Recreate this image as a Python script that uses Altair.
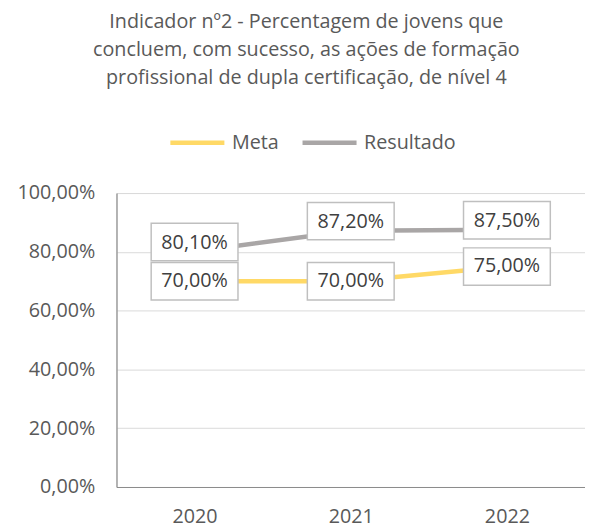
import altair as alt
import pandas as pd

years = ["2020", "2021", "2022"]
meta = [70.0, 70.0, 75.0]
resultado = [80.1, 87.2, 87.5]
series_names = ["Meta", "Resultado"]
colors = ["#FFD966", "#A9A6A6"]
title_lines = [
    "Indicador nº2 - Percentagem de jovens que",
    "concluem, com sucesso, as ações de formação",
    "profissional de dupla certificação, de nível 4",
]

rows = []
for y, m, r in zip(years, meta, resultado):
    rows.append({"ano": y, "serie": "Meta", "valor": m / 100})
    rows.append({"ano": y, "serie": "Resultado", "valor": r / 100})
df = pd.DataFrame(rows)

FONT = "Open Sans"
GREY = "#595959"

x = alt.X("ano:N", title=None, sort=years,
          scale=alt.Scale(type="point", padding=0.5),
          axis=alt.Axis(labelAngle=0, ticks=False, labelPadding=20,
                        labelFont=FONT, labelFontSize=20, labelColor=GREY,
                        domainColor="#8C8C8C", domainWidth=1.2, grid=False))
y = alt.Y("valor:Q", title=None,
          scale=alt.Scale(domain=[0, 1]),
          axis=alt.Axis(values=[0, 0.2, 0.4, 0.6, 0.8, 1.0], ticks=False,
                        labelExpr="replace(format(datum.value, '.2%'), '.', ',')",
                        labelPadding=22, labelFont=FONT, labelFontSize=20,
                        labelColor=GREY, domainColor="#8C8C8C", domainWidth=1.2,
                        gridColor="#D9D9D9", gridWidth=1))

base = alt.Chart(df).encode(x=x, y=y)

lines = base.mark_line(strokeWidth=4.5).encode(
    color=alt.Color("serie:N", title=None,
                    scale=alt.Scale(domain=series_names, range=colors),
                    legend=alt.Legend(orient="none", direction="horizontal",
                                      legendX=52, legendY=-81,
                                      symbolType="stroke", symbolSize=3000,
                                      symbolStrokeWidth=4.5, labelFont=FONT,
                                      labelFontSize=20, labelColor=GREY,
                                      columnPadding=14, labelOffset=5))
)

box_c = "M-1,-0.43L1,-0.43L1,0.43L-1,0.43Z"
box_up = "M-1,-0.65L1,-0.65L1,0.21L-1,0.21Z"

meta_df = base.transform_filter(alt.datum.serie == "Meta")
res_df = base.transform_filter(alt.datum.serie == "Resultado")

label_calc = "replace(format(datum.valor, '.2%'), '.', ',')"

meta_box = meta_df.mark_point(shape=box_c, size=7744, filled=True, fill="white",
                              stroke="#BFBFBF", strokeWidth=1.5, opacity=1)
res_box = res_df.mark_point(shape=box_up, size=7744, filled=True, fill="white",
                            stroke="#BFBFBF", strokeWidth=1.5, opacity=1)
meta_txt = meta_df.transform_calculate(lbl=label_calc).mark_text(
    font=FONT, fontSize=20, color="#404040", baseline="middle").encode(text="lbl:N")
res_txt = res_df.transform_calculate(lbl=label_calc).mark_text(
    font=FONT, fontSize=20, color="#404040", baseline="middle", dy=-9).encode(text="lbl:N")

chart = alt.layer(lines, meta_box, res_box, meta_txt, res_txt).properties(
    width=475, height=298,
    title=alt.TitleParams(title_lines, anchor="middle", font=FONT, fontSize=20,
                          fontWeight="normal", color=GREY, lineHeight=28,
                          offset=26, dx=-45),
    autosize=alt.AutoSizeParams(type="none"),
    padding={"left": 110, "top": 184, "right": 0, "bottom": 40},
).configure_view(stroke=None).configure(background="white")

chart.save("out.html", embed_options={"renderer": "svg", "actions": False})
